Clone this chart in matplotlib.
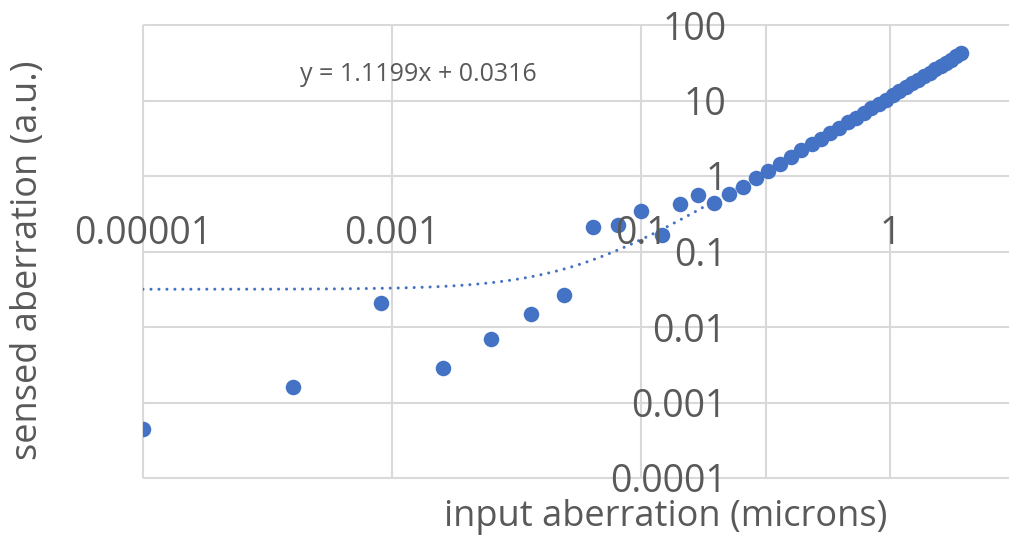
import matplotlib
matplotlib.use("Agg")
import matplotlib.pyplot as plt
from matplotlib.ticker import NullLocator
import numpy as np

# data
x_input = [0.00001, 0.00016, 0.00081, 0.00256, 0.00625, 0.01296, 0.02401,
           0.04096, 0.06561, 0.1, 0.14641, 0.20736, 0.28561, 0.38416,
           0.50625, 0.65536, 0.83521, 1.04976, 1.30321, 1.6, 1.94481,
           2.34256, 2.79841, 3.31776, 3.90625, 4.56976, 5.31441, 6.14656,
           7.07281, 8.1, 9.23521, 10.48576, 11.85921, 13.36336, 15.00625,
           16.79616, 18.74161, 20.85136, 23.13441, 25.6, 28.25761, 31.11696,
           34.18801, 37.48096]
y_sensed = [0.00044, 0.0016, 0.021, 0.0029, 0.0070, 0.0147, 0.0265,
            0.211, 0.224, 0.347, 0.164, 0.421, 0.560, 0.435,
            0.577, 0.725, 0.935, 1.17, 1.46, 1.79, 2.18,
            2.62, 3.13, 3.72, 4.38, 5.12, 5.95, 6.88,
            7.92, 9.07, 10.3, 11.7, 13.3, 15.0, 16.8,
            18.8, 21.0, 23.4, 25.9, 28.7, 31.7, 34.9,
            38.3, 42.0]

# linear trendline shown on the chart
trend_slope = 1.1199
trend_intercept = 0.0316

x_ticks = [1e-5, 1e-3, 1e-1, 1e1]
x_tick_labels = ["0.00001", "0.001", "0.1", "1"]
y_ticks = [1e-4, 1e-3, 1e-2, 1e-1, 1, 10, 100]
y_tick_labels = ["0.0001", "0.001", "0.01", "0.1", "1", "10", "100"]
x_grid = [1e-5, 1e-3, 1e-1, 1, 1e1]

blue = "#4472C4"
grey_text = "#595959"
grid_col = "#d9d9d9"

plt.rcParams["font.family"] = ["Open Sans", "DejaVu Sans"]

fig = plt.figure(figsize=(10.09, 5.36), dpi=100)
ax = fig.add_axes([143 / 1009, 1 - 478 / 536, (1009 - 143) / 1009, (478 - 25) / 536])
ax.set_xscale("log")
ax.set_yscale("log")
ax.set_xlim(1e-5, 10 ** (-5 + (1009 - 143) / 124.5))
ax.set_ylim(1e-4, 100)

# gridlines (below the markers); x=1 / y=1 lines act as the axes
ax.vlines(x_grid, 1e-4, 100, colors=grid_col, lw=1.5, zorder=0.5, clip_on=False)
ax.hlines(y_ticks, ax.get_xlim()[0], ax.get_xlim()[1], colors=grid_col, lw=1.5,
          zorder=0.5, clip_on=False)

xt = np.geomspace(x_input[0], x_input[-1], 400)
ax.plot(xt, np.polyval([trend_slope, trend_intercept], xt), color=blue, lw=2.2,
        linestyle=(0, (0.01, 2.6)), dash_capstyle="round", zorder=1)
ax.scatter(x_input, y_sensed, s=125, color=blue, linewidths=0, zorder=2)

for side in ["top", "right"]:
    ax.spines[side].set_visible(False)
ax.spines["left"].set_position(("data", 1))
ax.spines["bottom"].set_position(("data", 1))
ax.spines["left"].set_visible(False)
ax.spines["bottom"].set_visible(False)

ax.set_xticks(x_ticks, labels=x_tick_labels)
ax.set_yticks(y_ticks, labels=y_tick_labels)
ax.xaxis.set_minor_locator(NullLocator())
ax.yaxis.set_minor_locator(NullLocator())
ax.tick_params(axis="x", length=0, pad=28, labelsize=27, labelcolor=grey_text)
ax.tick_params(axis="y", length=0, pad=28, labelsize=27, labelcolor=grey_text)
ax.set_axisbelow(False)

ax.set_xlabel("input aberration (microns)", fontsize=26, color=grey_text, va="center")
ax.xaxis.set_label_coords((666 - 143) / 866, (478 - 517) / 453)
ax.set_ylabel("sensed aberration (a.u.)", fontsize=26, color=grey_text, va="center")
ax.yaxis.set_label_coords((28 - 143) / 866, (478 - 260) / 453)

ax.text((300 - 143) / 866, (478 - 75) / 453, "y = 1.1199x + 0.0316", transform=ax.transAxes,
        fontsize=18, color=grey_text, ha="left", va="center")

fig.savefig("out.png", dpi=100)
